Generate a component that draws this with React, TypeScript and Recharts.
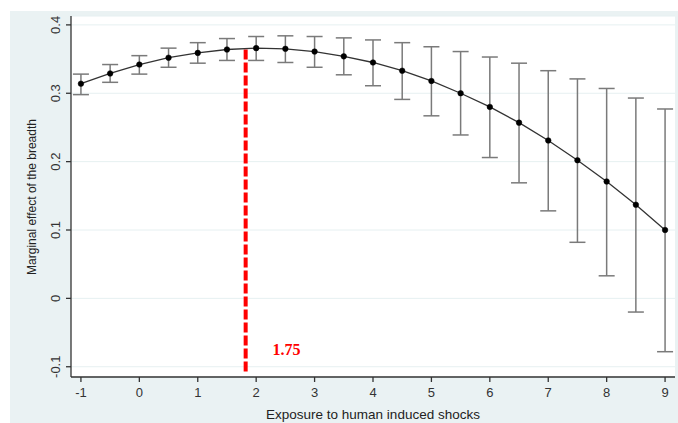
import React from "react";
import {
  ComposedChart,
  Line,
  ErrorBar,
  XAxis,
  YAxis,
  CartesianGrid,
  ReferenceLine,
  ReferenceDot,
} from "recharts";

// values
const exposure = [-1, -0.5, 0, 0.5, 1, 1.5, 2, 2.5, 3, 3.5, 4, 4.5, 5, 5.5, 6, 6.5, 7, 7.5, 8, 8.5, 9];
const effect = [0.314, 0.329, 0.342, 0.352, 0.359, 0.364, 0.366, 0.365, 0.361, 0.354, 0.345, 0.333, 0.318, 0.3, 0.28, 0.257, 0.231, 0.202, 0.171, 0.137, 0.1];
const ciLow = [0.298, 0.316, 0.328, 0.338, 0.344, 0.348, 0.348, 0.345, 0.338, 0.327, 0.311, 0.291, 0.267, 0.239, 0.206, 0.169, 0.128, 0.082, 0.033, -0.02, -0.078];
const ciHigh = [0.328, 0.342, 0.355, 0.366, 0.374, 0.38, 0.383, 0.384, 0.383, 0.381, 0.378, 0.374, 0.368, 0.361, 0.353, 0.344, 0.333, 0.321, 0.307, 0.293, 0.277];
const xTicks = [-1, 0, 1, 2, 3, 4, 5, 6, 7, 8, 9];
const yTicks = [-0.1, 0, 0.1, 0.2, 0.3, 0.4];

const turningPoint = 1.82;
const turningLabel = "1.75";
const turningTop = 0.366;
const turningBottom = -0.107;

const data = exposure.map((x, i) => ({
  x,
  y: effect[i],
  err: [effect[i] - ciLow[i], ciHigh[i] - effect[i]],
}));

const font = "'Liberation Sans', Arial, sans-serif";

const YTick = (props: any) => {
  const { x, y, payload } = props;
  const tx = x - 4;
  return (
    <text
      x={tx}
      y={y}
      transform={`rotate(-90 ${tx} ${y})`}
      textAnchor="middle"
      fontSize={13}
      fontFamily={font}
      fill="#333"
    >
      {payload.value === 0 ? "0" : String(payload.value)}
    </text>
  );
};

const YLabel = () => (
  <text
    x={36}
    y={197}
    transform="rotate(-90 36 197)"
    textAnchor="middle"
    fontSize={12}
    fontFamily={font}
    fill="#222"
  >
    Marginal effect of the breadth
  </text>
);

const App: React.FC = () => {
  document.body.style.margin = "0";
  return (
    <div style={{ position: "relative", width: 678, height: 423, background: "#fff" }}>
      <div
        style={{
          position: "absolute",
          left: 10,
          top: 11,
          right: 0,
          bottom: 0,
          background: "#eaf2f3",
        }}
      />
      <div style={{ position: "absolute", left: 0, top: 0 }}>
        <ComposedChart
          width={678}
          height={423}
          data={data}
          margin={{ top: 16, right: 3, bottom: 0, left: 0 }}
        >
          <CartesianGrid fill="#fff" stroke="#e6f0f1" vertical={false} />
          <XAxis
            dataKey="x"
            type="number"
            domain={[-1.17, 9.17]}
            ticks={xTicks}
            height={46}
            interval={0}
            tick={{ fontSize: 13, fontFamily: font, fill: "#333" }}
            tickSize={5}
            tickMargin={6}
            axisLine={{ stroke: "#333", strokeWidth: 1.3 }}
            tickLine={{ stroke: "#333", strokeWidth: 1.3 }}
            label={{
              value: "Exposure to human induced shocks",
              position: "insideBottom",
              offset: 4,
              style: { fontSize: 13.5, fontFamily: font, fill: "#222" },
            }}
          />
          <YAxis
            type="number"
            domain={[-0.115, 0.413]}
            ticks={yTicks}
            width={71}
            interval={0}
            tick={<YTick />}
            tickSize={5}
            axisLine={{ stroke: "#333", strokeWidth: 1.3 }}
            tickLine={{ stroke: "#333", strokeWidth: 1.3 }}
            label={<YLabel />}
          />
          <ReferenceLine
            segment={[
              { x: turningPoint, y: turningBottom },
              { x: turningPoint, y: turningTop },
            ]}
            stroke="#ff0000"
            strokeWidth={4}
            strokeDasharray="10 3"
          />
          <ReferenceDot
            x={2.52}
            y={-0.075}
            r={0}
            fill="none"
            stroke="none"
            label={{
              value: turningLabel,
              position: "center",
              style: {
                fontSize: 16,
                fontFamily: "'Liberation Serif', 'Times New Roman', serif",
                fontWeight: "bold",
                fill: "#ff0000",
              },
            }}
          />
          <Line
            dataKey="y"
            type="linear"
            stroke="#333"
            strokeWidth={1.3}
            dot={{ r: 2.8, fill: "#000", stroke: "#000", strokeWidth: 0.5 }}
            activeDot={false}
            isAnimationActive={false}
          >
            <ErrorBar dataKey="err" direction="y" width={8} stroke="#7a7a7a" strokeWidth={1.5} />
          </Line>
        </ComposedChart>
      </div>
    </div>
  );
};

export default App;
